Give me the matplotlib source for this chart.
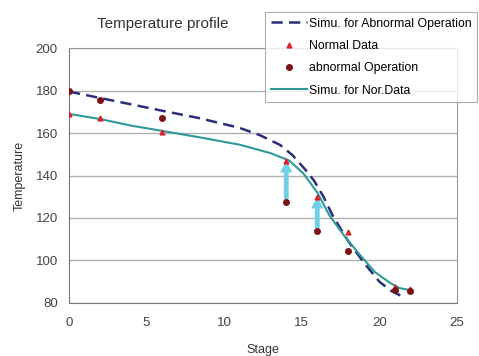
import numpy as np
import matplotlib
matplotlib.use('Agg')
import matplotlib.pyplot as plt
from matplotlib import rcParams

rcParams['font.family'] = ['Liberation Sans', 'DejaVu Sans']

## measured points
stage = [0, 2, 6, 14, 16, 18, 21, 22]
normal_data = [169, 167, 160.5, 147, 130, 113.5, 87.5, 86.5]
abnormal_data = [180, 175.5, 167, 127.5, 114, 104.5, 86, 85.5]

## simulated profiles
simu_nor_x = [0, 2, 4, 6, 8.4, 11, 13, 14.2, 15.1, 16, 16.8, 17.8, 18.75, 19.7, 20.7, 21.3, 22]
simu_nor_y = [169, 166.6, 163.5, 161, 158, 154.5, 150.5, 147, 141, 132, 121, 111, 102.6, 94.6, 89.4, 87, 86]
simu_abn_x = [0, 2, 4, 6, 8.4, 11, 12.3, 13.6, 14.4, 15.2, 15.8, 16.4, 17, 18, 19, 20, 20.8, 21.5]
simu_abn_y = [179.5, 176.5, 173.5, 170.5, 167, 162.4, 159, 154.4, 149.6, 143, 137.5, 130, 121, 109, 99, 90, 85.5, 83]

## arrows from abnormal data up to the normal curve
arrow_x = [14, 16]
arrow_from = [127.5, 114]
arrow_to = [148, 131]

fig = plt.figure(figsize=(4.79, 3.56), dpi=100)
ax = fig.add_axes([0.144, 0.149, 0.81, 0.716])

for xa, y0, y1 in zip(arrow_x, arrow_from, arrow_to):
    ax.annotate('', xy=(xa, y1), xytext=(xa, y0),
                arrowprops=dict(arrowstyle='simple,head_width=0.9,head_length=0.8,tail_width=0.35',
                                color='#6fd0e6', lw=0), zorder=3)

l_abn, = ax.plot(simu_abn_x, simu_abn_y, color='#2b2f78', lw=1.8, dashes=(4.5, 2.5),
                 label='Simu. for Abnormal Operation', zorder=4)
m_nor, = ax.plot(stage, normal_data, ls='none', marker='^', ms=3.5, color='#d8262e',
                 label='Normal Data', zorder=5)
m_abn, = ax.plot(stage, abnormal_data, ls='none', marker='o', ms=4, color='#7d1218',
                 label='abnormal Operation', zorder=5)
l_nor, = ax.plot(simu_nor_x, simu_nor_y, color='#2f9898', lw=1.5,
                 label='Simu. for Nor.Data', zorder=4)

ax.set_xlim(0, 25)
ax.set_ylim(80, 200)
ax.set_xticks([0, 5, 10, 15, 20, 25])
ax.set_yticks([80, 100, 120, 140, 160, 180, 200])
ax.yaxis.grid(True, color='#b0b0b0', lw=1)
ax.set_axisbelow(True)
ax.tick_params(length=0, labelsize=9.5, colors='#444444')
ax.tick_params(axis='x', pad=10)
ax.tick_params(axis='y', pad=8)
for s in ax.spines.values():
    s.set_color('#999999')
ax.spines['left'].set_color('#777777')
ax.spines['bottom'].set_color('#777777')

ax.set_xlabel('Stage', fontsize=9, color='#333333', labelpad=11)
ax.set_ylabel('Temperature', fontsize=9, color='#333333', labelpad=7)
fig.text(163 / 479, 1 - 24 / 356, 'Temperature profile', ha='center', va='center',
         fontsize=11, color='#333333')

leg = fig.legend(handles=[l_abn, m_nor, m_abn, l_nor], loc='upper left',
                 bbox_to_anchor=(265 / 479, 1 - 12 / 356), fontsize=8.8,
                 frameon=True, fancybox=False, edgecolor='#999999', borderaxespad=0,
                 handlelength=3.0, handletextpad=0.15, labelspacing=0.85, borderpad=0.45)
leg.get_frame().set_linewidth(0.8)

plt.savefig('out.png', dpi=100)
